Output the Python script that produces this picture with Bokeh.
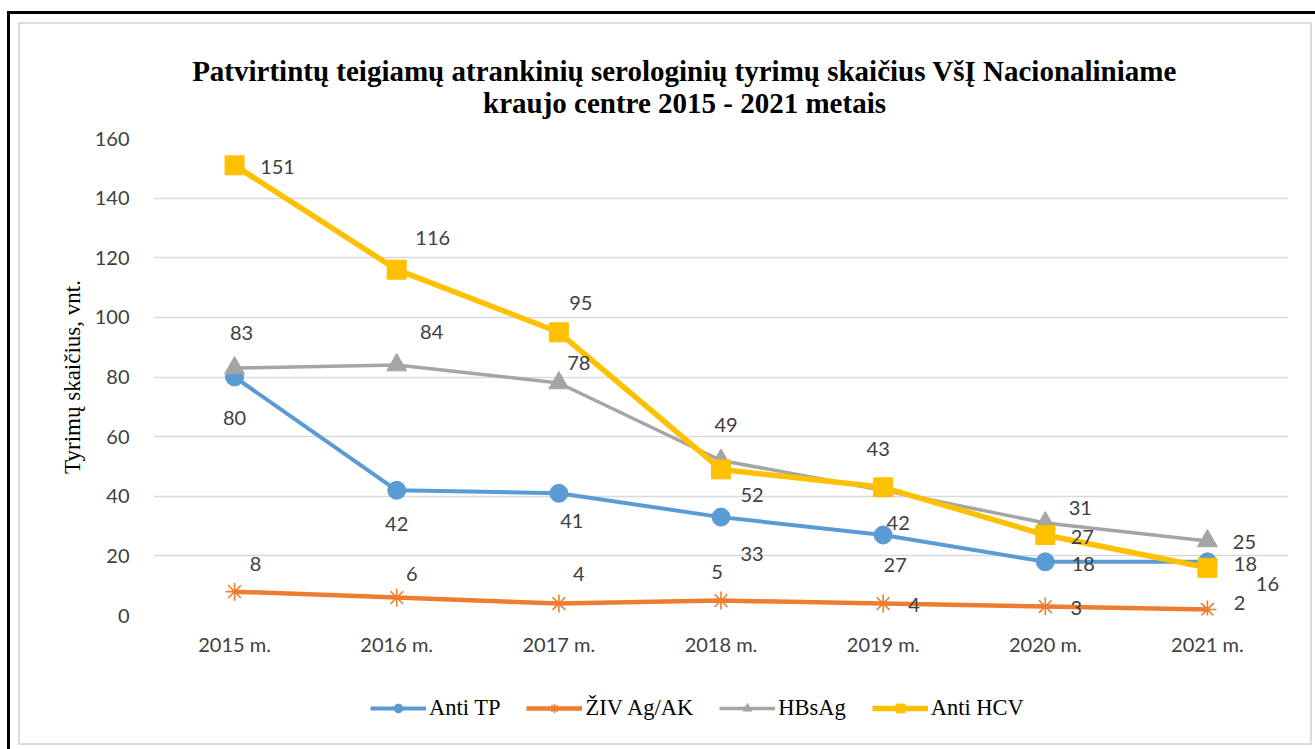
from bokeh.plotting import figure
from bokeh.layouts import column
from bokeh.models import (ColumnDataSource, FactorRange, Range1d, LabelSet, Label,
                          Legend, LegendItem, FixedTicker, InlineStyleSheet)
from bokeh.core.properties import value
from bokeh.embed import file_html
from bokeh.resources import INLINE

# ---- data ----
categories = ["2015 m.", "2016 m.", "2017 m.", "2018 m.", "2019 m.", "2020 m.", "2021 m."]
anti_tp = [80, 42, 41, 33, 27, 18, 18]
ziv = [8, 6, 4, 5, 4, 3, 2]
hbsag = [83, 84, 78, 52, 42, 31, 25]
anti_hcv = [151, 116, 95, 49, 43, 27, 16]
series_names = ["Anti TP", "ŽIV Ag/AK", "HBsAg", "Anti HCV"]
y_ticks = [0, 20, 40, 60, 80, 100, 120, 140, 160]
title_line1 = "Patvirtintų teigiamų atrankinių serologinių tyrimų skaičius VšĮ Nacionaliniame"
title_line2 = "kraujo centre 2015 - 2021 metais"

# ---- label placement (pixel offsets: right, up) ----
off_tp = [(0, -41), (0, -34), (13, -28), (31, -37), (12, -30), (38, -2), (38, -2)]
off_ziv = [(21, 28), (15, 24), (20, 30), (-4, 29), (31, -1), (31, -1), (32, 7)]
off_hbs = [(7, 35), (35, 33), (20, 20), (31, -35), (15, -33), (35, 15), (37, -1)]
off_hcv = [(43, -2), (36, 32), (22, 29), (5, 44), (-5, 38), (37, -2), (60, -16)]

W = 1315
H_TOP, H_MID, H_BOT = 120, 542, 87
BL, BR = 153, 27          # left / right borders shared by all panels

css = """
:host::before {
  content: ""; position: absolute; left: 18px; top: 22px; right: 3px; bottom: 4px;
  border: 2px solid #dcdcdc; pointer-events: none; z-index: 20;
}
:host::after {
  content: ""; position: absolute; left: 7px; top: 11px; right: 0px; bottom: 0px;
  border-top: 3px solid #000; border-left: 3px solid #000; pointer-events: none; z-index: 21;
}
"""

TICK_FONT = "Lato"
LABEL_COLOR = "#404040"


def blank_panel(h):
    # pixel-like coordinates: x measured from the page's left edge, y from the panel top
    f = figure(width=W, height=h, x_range=Range1d(BL, W - BR), y_range=Range1d(h, 0),
               title=None, output_backend="svg", toolbar_location=None,
               min_border_left=BL, min_border_right=BR, min_border_top=0, min_border_bottom=0,
               x_axis_location=None, y_axis_location=None)
    f.grid.visible = False
    f.outline_line_color = None
    f.background_fill_color = "white"
    f.border_fill_color = "white"
    return f


# ---- title panel ----
pt = blank_panel(H_TOP)
for txt, yb in [(title_line1, 70), (title_line2, 102)]:
    pt.add_layout(Label(x=684, y=yb, text=txt, text_font="Liberation Serif",
                        text_font_style="bold", text_font_size="29px",
                        text_align="center", text_baseline="alphabetic",
                        text_color="black"))

# ---- main chart ----
p = figure(width=W, height=H_MID, x_range=FactorRange(*categories), y_range=Range1d(0, 160),
           title=None, output_backend="svg", toolbar_location=None,
           min_border_left=BL, min_border_right=BR, min_border_top=18, min_border_bottom=47)
p.outline_line_color = None
p.background_fill_color = "white"
p.border_fill_color = "white"

p.yaxis.ticker = FixedTicker(ticks=y_ticks)
for ax in (p.xaxis[0], p.yaxis[0]):
    ax.axis_line_color = None
    ax.major_tick_line_color = None
    ax.minor_tick_line_color = None
    ax.major_label_text_font = TICK_FONT
    ax.major_label_text_font_size = "20px"
    ax.major_label_text_color = LABEL_COLOR
p.yaxis.major_label_standoff = 18
p.xaxis.major_label_standoff = 10
p.yaxis.axis_label = "Tyrimų skaičius, vnt."
p.yaxis.axis_label_text_font = "Liberation Serif"
p.yaxis.axis_label_text_font_style = "normal"
p.yaxis.axis_label_text_font_size = "23px"
p.yaxis.axis_label_text_color = "black"
p.yaxis.axis_label_standoff = 7

p.xgrid.grid_line_color = None
p.ygrid.grid_line_color = "#d9d9d9"
p.ygrid.grid_line_width = 1.4

styles = [
    dict(vals=anti_tp, off=off_tp, color="#5B9BD5", lw=4, marker="circle", size=18),
    dict(vals=ziv, off=off_ziv, color="#ED7D31", lw=4.5, marker="asterisk", size=18),
    dict(vals=hbsag, off=off_hbs, color="#A5A5A5", lw=3.5, marker="triangle", size=20),
    dict(vals=anti_hcv, off=off_hcv, color="#FFC000", lw=5.5, marker="square", size=19),
]


def draw_series(fig, src, st):
    r1 = fig.line("x", "y", source=src, line_color=st["color"], line_width=st["lw"],
                  line_join="round")
    if st["marker"] == "asterisk":
        r2 = fig.scatter("x", "y", source=src, marker="asterisk", size=st["size"],
                         line_color=st["color"], line_width=1.6)
    else:
        r2 = fig.scatter("x", "y", source=src, marker=st["marker"], size=st["size"],
                         fill_color=st["color"], line_color=st["color"])
    return r1, r2


for st in styles:
    src = ColumnDataSource(dict(x=categories, y=st["vals"],
                                t=[str(v) for v in st["vals"]],
                                dx=[o[0] for o in st["off"]],
                                dy=[o[1] for o in st["off"]]))
    draw_series(p, src, st)
    st["src"] = src

for st in styles:
    p.add_layout(LabelSet(x="x", y="y", text="t", source=st["src"],
                          x_offset="dx", y_offset="dy", text_align="center",
                          text_baseline="middle", text_font=value(TICK_FONT),
                          text_font_size="20px", text_color=LABEL_COLOR))

# ---- legend panel (same styles; placeholder renderers hold no visible data) ----
pl = blank_panel(H_BOT)
items = []
for name, st in zip(series_names, styles):
    empty = ColumnDataSource(dict(x=[float("nan")], y=[float("nan")]))
    r1, r2 = draw_series(pl, empty, st)
    items.append(LegendItem(label=name, renderers=[r1, r2], index=0))
legend = Legend(items=items, orientation="horizontal", location=(217, 28),
                label_text_font="Liberation Serif", label_text_font_size="22.5px",
                label_text_color="black", glyph_width=56, glyph_height=22,
                label_standoff=3, spacing=26, padding=5, margin=0,
                border_line_color=None, background_fill_alpha=0)
pl.add_layout(legend, "center")

layout = column(pt, p, pl, spacing=0, stylesheets=[InlineStyleSheet(css=css)])

open("out.html", "w").write(file_html(layout, INLINE))
